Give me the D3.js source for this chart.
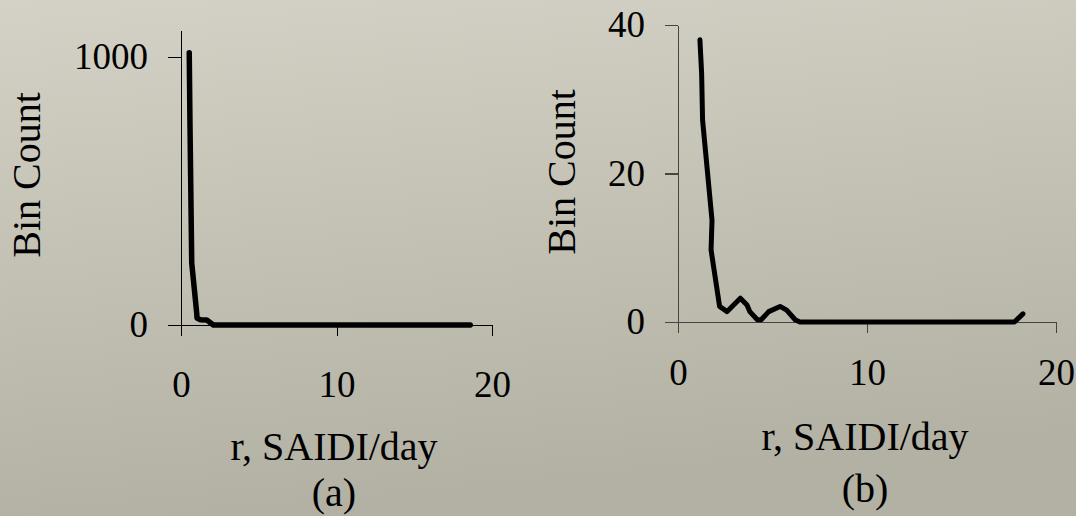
<!DOCTYPE html>
<html>
<head>
<meta charset="utf-8">
<script src="https://cdn.jsdelivr.net/npm/d3@7"></script>
<style>
  html, body { margin: 0; padding: 0; }
  svg { display: block; }
  text { font-family: "Liberation Serif", "Times New Roman", serif; fill: #000; }
</style>
</head>
<body>
<div class="chart_area"></div>
<script>
// chart (a): all outages
var rA = [0.53, 0.58, 0.69, 1.01, 1.03, 1.22, 1.65, 2.08, 18.6];
var countA = [1015, 739, 231, 45, 26, 20, 19, 0, 0];
var xTicksA = [0, 10, 20];
var yTicksA = [0, 1000];

// chart (b)
var rB = [1.16, 1.25, 1.3, 1.8, 1.75, 2.2, 2.6, 3.3, 3.65, 3.8, 4.2, 4.4, 4.8, 5.4, 5.75, 6.2, 6.45, 17.8, 18.25];
var countB = [38, 33.5, 27.2, 13.7, 9.7, 2.1, 1.4, 3.2, 2.3, 1.4, 0.3, 0.3, 1.4, 2.1, 1.6, 0.3, 0, 0, 1.1];
var xTicksB = [0, 10, 20];
var yTicksB = [0, 20, 40];

var width = 1076, height = 516;

var svg = d3.select(".chart_area").append("svg")
    .attr("width", width)
    .attr("height", height);

// background gradient
var defs = svg.append("defs");
var grad = defs.append("linearGradient")
    .attr("id", "bg")
    .attr("x1", "0%").attr("y1", "0%")
    .attr("x2", "20%").attr("y2", "100%");
grad.append("stop").attr("offset", "0%").attr("stop-color", "#d4d2c6");
grad.append("stop").attr("offset", "100%").attr("stop-color", "#b3b1a3");
svg.append("rect")
    .attr("width", width).attr("height", height)
    .attr("fill", "url(#bg)");

function drawPanel(opt) {
  var x = d3.scaleLinear().domain([0, 20]).range(opt.xr);
  var y = d3.scaleLinear().domain(opt.ydom).range(opt.yr);

  var g = svg.append("g");

  g.append("g")
    .attr("transform", "translate(" + opt.xr[0] + ",0)")
    .call(d3.axisLeft(y).tickValues(opt.yTicks).tickFormat(d3.format("d"))
      .tickSize(13).tickSizeOuter(0).tickPadding(20));
  g.append("g")
    .attr("transform", "translate(0," + opt.yr[0] + ")")
    .call(d3.axisBottom(x).tickValues(opt.xTicks).tickFormat(d3.format("d"))
      .tickSize(11).tickSizeOuter(0).tickPadding(opt.xpad));

  g.selectAll(".domain, .tick line")
    .attr("stroke", opt.axisColor)
    .attr("stroke-width", opt.axisWidth)
    .attr("shape-rendering", "crispEdges");
  g.selectAll(".tick text")
    .attr("font-family", "Liberation Serif")
    .style("font-size", "37px")
    .attr("fill", "#000");

  var line = d3.line()
    .x(function(d) { return x(d[0]); })
    .y(function(d) { return y(d[1]); });

  g.append("path")
    .datum(opt.r.map(function(v, i) { return [v, opt.c[i]]; }))
    .attr("d", line)
    .attr("fill", "none")
    .attr("stroke", "#000")
    .attr("stroke-width", opt.lineWidth)
    .attr("stroke-linejoin", "round")
    .attr("stroke-linecap", "round");

  g.append("text")
    .attr("transform", "translate(" + opt.ylabX + "," + opt.ylabY + ") rotate(-90)")
    .attr("text-anchor", "middle")
    .style("font-size", "40px")
    .text("Bin Count");

  g.append("text")
    .attr("x", opt.xlabX).attr("y", opt.xlabY)
    .attr("text-anchor", "middle")
    .style("font-size", "40px")
    .text("r, SAIDI/day");

  g.append("text")
    .attr("x", opt.xlabX).attr("y", opt.capY)
    .attr("text-anchor", "middle")
    .style("font-size", "40px")
    .text(opt.caption);
}

drawPanel({
  r: rA, c: countA, xTicks: xTicksA, yTicks: yTicksA,
  xr: [181, 492], ydom: [0, 1100], yr: [325, 30],
  xpad: 35, axisColor: "#000", axisWidth: 1, lineWidth: 5.5,
  ylabX: 40, ylabY: 175, xlabX: 334, xlabY: 460, capY: 506, caption: "(a)"
});

drawPanel({
  r: rB, c: countB, xTicks: xTicksB, yTicks: yTicksB,
  xr: [678, 1056], ydom: [0, 40], yr: [322, 25],
  xpad: 26, axisColor: "#444", axisWidth: 1.5, lineWidth: 5,
  ylabX: 575, ylabY: 172, xlabX: 865, xlabY: 450, capY: 502, caption: "(b)"
});
</script>
</body>
</html>
